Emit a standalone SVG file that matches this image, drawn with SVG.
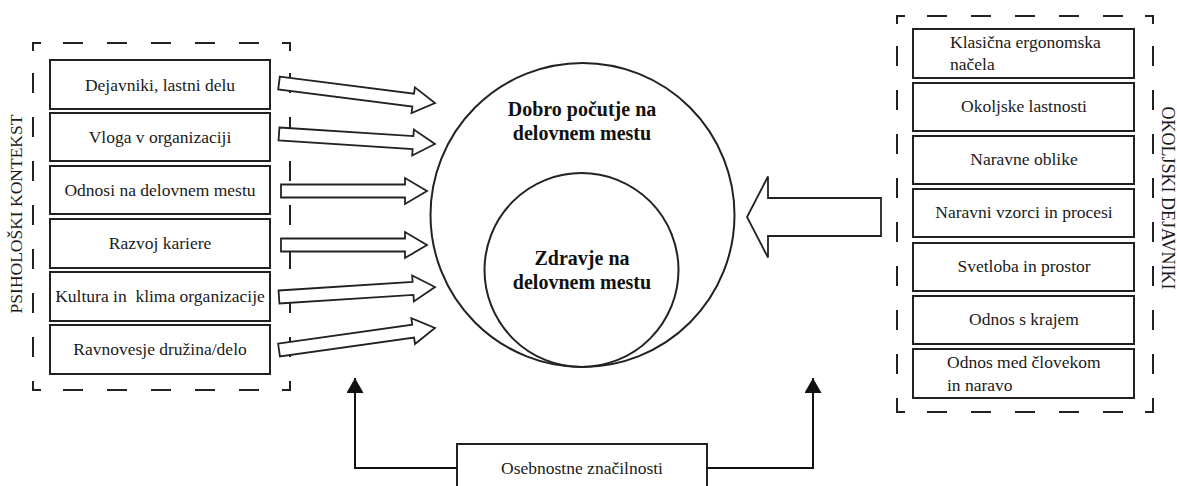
<svg xmlns="http://www.w3.org/2000/svg" width="1177" height="486" viewBox="0 0 1177 486">
<defs>
<style>
.box{fill:#fff;stroke:#222;stroke-width:2}
.t{font-family:"Liberation Serif","Times New Roman",serif;font-size:17.5px;fill:#1a1a1a;text-anchor:middle}
.tl{font-family:"Liberation Serif","Times New Roman",serif;font-size:17.5px;fill:#1a1a1a}
.tb{font-family:"Liberation Serif","Times New Roman",serif;font-size:20px;font-weight:bold;fill:#111;text-anchor:middle}
.dash{fill:none;stroke:#222;stroke-width:2;stroke-dasharray:20 24;stroke-dashoffset:22}
.corner{fill:none;stroke:#222;stroke-width:2}
.barrow{fill:#fff;stroke:#222;stroke-width:1.8;stroke-linejoin:miter}
.conn{fill:none;stroke:#111;stroke-width:2}
.circ{fill:none;stroke:#222;stroke-width:2}
</style>
<marker id="ah" viewBox="0 0 15 17" refX="15" refY="8.5" markerWidth="15" markerHeight="17" markerUnits="userSpaceOnUse" orient="auto">
<path d="M0,0 L15,8.5 L0,17 z" fill="#111"/>
</marker>
</defs>

<g id="left-frame">
<path class="corner" d="M33,51 V43 H41 M282,43 H290 V51 M290,382 V390 H282 M41,390 H33 V382"/>
<path class="dash" d="M41,43 H282"/>
<path class="dash" d="M290,51 V382"/>
<path class="dash" d="M41,390 H282"/>
<path class="dash" d="M33,51 V382"/>
<text class="t" transform="translate(22 214) rotate(-90)">PSIHOLOŠKI KONTEKST</text>
</g>

<g id="n-dejavniki"><rect class="box" x="50" y="60" width="220" height="49"/><text class="t" x="160" y="91">Dejavniki, lastni delu</text></g>
<g id="n-vloga"><rect class="box" x="50" y="113" width="220" height="48"/><text class="t" x="160" y="143">Vloga v organizaciji</text></g>
<g id="n-odnosi"><rect class="box" x="50" y="166" width="220" height="48"/><text class="t" x="160" y="196">Odnosi na delovnem mestu</text></g>
<g id="n-razvoj"><rect class="box" x="50" y="219" width="220" height="49"/><text class="t" x="160" y="249">Razvoj kariere</text></g>
<g id="n-kultura"><rect class="box" x="50" y="272" width="220" height="49"/><text class="t" x="160" y="302" xml:space="preserve">Kultura in  klima organizacije</text></g>
<g id="n-ravnovesje"><rect class="box" x="50" y="325" width="220" height="49"/><text class="t" x="160" y="355">Ravnovesje družina/delo</text></g>

<g id="right-frame">
<path class="corner" d="M897,24 V16 H905 M1145,16 H1153 V24 M1153,404 V412 H1145 M905,412 H897 V404"/>
<path class="dash" d="M905,16 H1145"/>
<path class="dash" d="M1153,24 V404"/>
<path class="dash" d="M905,412 H1145"/>
<path class="dash" d="M897,24 V404"/>
<text class="t" transform="translate(1162 198) rotate(90)" style="font-size:18px">OKOLJSKI DEJAVNIKI</text>
</g>

<g id="n-klasicna"><rect class="box" x="913" y="29" width="221" height="49"/><text class="tl" x="950" y="48">Klasična ergonomska</text><text class="tl" x="950" y="70">načela</text></g>
<g id="n-okoljske"><rect class="box" x="913" y="83" width="221" height="48"/><text class="t" x="1024" y="112">Okoljske lastnosti</text></g>
<g id="n-naravne"><rect class="box" x="913" y="136" width="221" height="48"/><text class="t" x="1024" y="165">Naravne oblike</text></g>
<g id="n-naravni"><rect class="box" x="913" y="189" width="221" height="48"/><text class="t" x="1024" y="218">Naravni vzorci in procesi</text></g>
<g id="n-svetloba"><rect class="box" x="913" y="243" width="221" height="48"/><text class="t" x="1024" y="272">Svetloba in prostor</text></g>
<g id="n-krajem"><rect class="box" x="913" y="296" width="221" height="48"/><text class="t" x="1024" y="325">Odnos s krajem</text></g>
<g id="n-clovekom"><rect class="box" x="913" y="349" width="221" height="49"/><text class="tl" x="947" y="368">Odnos med človekom</text><text class="tl" x="947" y="391">in naravo</text></g>

<g id="n-dobro">
<circle class="circ" cx="582.5" cy="215" r="152"/>
<text class="tb" x="582" y="116">Dobro počutje na</text>
<text class="tb" x="582" y="140">delovnem mestu</text>
</g>
<g id="n-zdravje">
<circle class="circ" cx="581.5" cy="270" r="97"/>
<text class="tb" x="582" y="265">Zdravje na</text>
<text class="tb" x="582" y="289">delovnem mestu</text>
</g>

<g id="n-osebnostne"><rect class="box" x="457" y="444" width="250" height="50"/><text class="t" x="582" y="474">Osebnostne značilnosti</text></g>

<g id="connectors">
<polygon class="barrow" transform="translate(279 83) rotate(7.305)" points="0,-6.5 135.3,-6.5 135.3,-13 157.3,0 135.3,13 135.3,6.5 0,6.5"/>
<polygon class="barrow" transform="translate(279 134) rotate(3.668)" points="0,-6.5 134.3,-6.5 134.3,-13 156.3,0 134.3,13 134.3,6.5 0,6.5"/>
<polygon class="barrow" transform="translate(281 191)" points="0,-6.5 124,-6.5 124,-13 146,0 124,13 124,6.5 0,6.5"/>
<polygon class="barrow" transform="translate(281 245)" points="0,-6.5 124,-6.5 124,-13 146,0 124,13 124,6.5 0,6.5"/>
<polygon class="barrow" transform="translate(279 297) rotate(-3.668)" points="0,-6.5 134.3,-6.5 134.3,-13 156.3,0 134.3,13 134.3,6.5 0,6.5"/>
<polygon class="barrow" transform="translate(279 350) rotate(-8.027)" points="0,-6.5 135.5,-6.5 135.5,-13 157.5,0 135.5,13 135.5,6.5 0,6.5"/>
<polygon class="barrow" points="881,198 768,198 768,176.5 747,217 768,257.5 768,236 881,236"/>
<polyline class="conn" points="457,468 355,468 355,378" marker-end="url(#ah)"/>
<polyline class="conn" points="707,468 813,468 813,378" marker-end="url(#ah)"/>
</g>
</svg>
